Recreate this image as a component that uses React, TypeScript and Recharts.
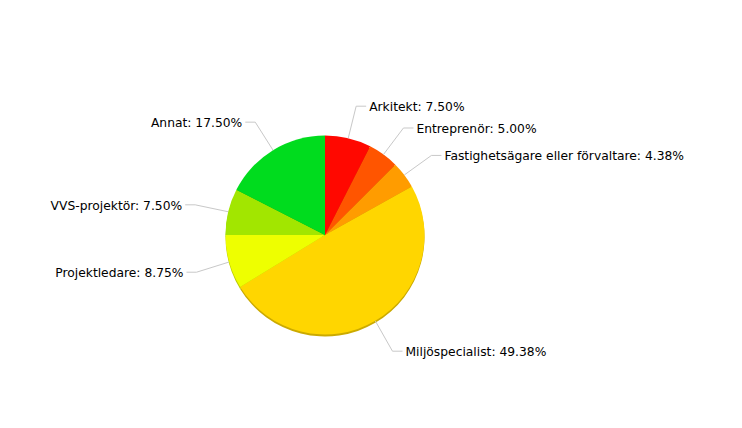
import React from "react";
import { PieChart, Pie, Cell } from "recharts";

const categories = [
  "Arkitekt",
  "Entreprenör",
  "Fastighetsägare eller förvaltare",
  "Miljöspecialist",
  "Projektledare",
  "VVS-projektör",
  "Annat",
];
const shares = [7.5, 5.0, 4.38, 49.38, 8.75, 7.5, 17.5];
const colors = ["#FF0800", "#FF5500", "#FF9C00", "#FFD600", "#EEFF00", "#A2E600", "#00DC1E"];
const shadeColors = ["#C80600", "#C84300", "#C87A00", "#CBAA00", "#BBC800", "#7FB400", "#00AA17"];

const data = categories.map((name, i) => ({ name, value: shares[i] }));

const RAD = Math.PI / 180;

const renderLabel = (props: any) => {
  const { cx, cy, midAngle, outerRadius, name, value } = props;
  const cos = Math.cos(-midAngle * RAD);
  const sin = Math.sin(-midAngle * RAD);
  const sx = cx + outerRadius * cos;
  const sy = cy + outerRadius * sin;
  const ex = cx + (outerRadius + 34) * cos;
  const ey = cy + (outerRadius + 34) * sin + 1;
  const right = cos >= 0;
  const hx = ex + (right ? 10 : -10);
  const tx = hx + (right ? 3 : -3);
  return (
    <g>
      <polyline
        points={`${sx},${sy} ${ex},${ey} ${hx},${ey}`}
        fill="none"
        stroke="#c8c8c8"
        strokeWidth={1}
      />
      <text
        x={tx}
        y={ey + 1}
        textAnchor={right ? "start" : "end"}
        dominantBaseline="central"
        fill="#000"
        fontSize={12.3}
        fontFamily="DejaVu Sans, Verdana, sans-serif"
      >
        {`${name}: ${value.toFixed(2)}%`}
      </text>
    </g>
  );
};

export default function App() {
  return (
    <div style={{ width: 734, height: 420, background: "#fff" }}>
      <PieChart width={734} height={420} margin={{ top: 0, right: 0, bottom: 0, left: 0 }}>
        <Pie
          data={data}
          dataKey="value"
          nameKey="name"
          cx={317}
          cy={229}
          outerRadius={99.5}
          startAngle={90}
          endAngle={-270}
          stroke="none"
          isAnimationActive={false}
          label={false}
          labelLine={false}
        >
          {data.map((d, i) => (
            <Cell key={`s-${i}`} fill={shadeColors[i]} stroke="none" />
          ))}
        </Pie>
        <Pie
          data={data}
          dataKey="value"
          nameKey="name"
          cx={317}
          cy={227}
          outerRadius={99.5}
          startAngle={90}
          endAngle={-270}
          stroke="none"
          isAnimationActive={false}
          label={renderLabel}
          labelLine={false}
        >
          {data.map((d, i) => (
            <Cell key={`c-${i}`} fill={colors[i]} stroke="none" />
          ))}
        </Pie>
      </PieChart>
    </div>
  );
}
